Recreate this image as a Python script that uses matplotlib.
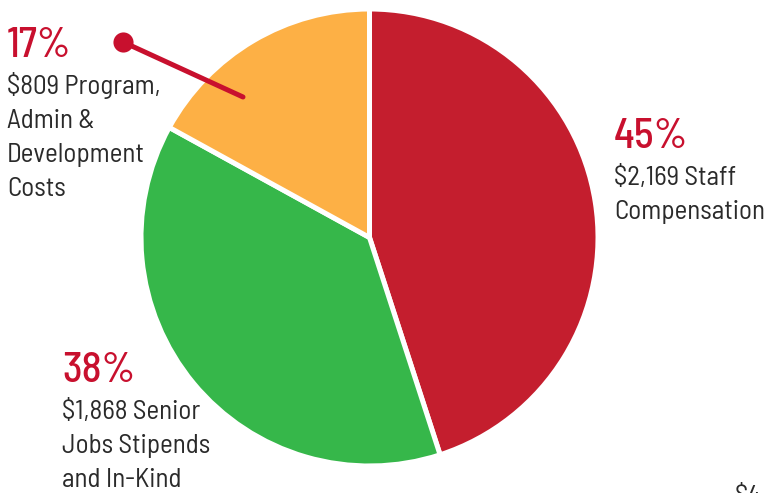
import matplotlib.pyplot as plt
import numpy as np

# data
shares = [45, 38, 17]
pcts = ['45%', '38%', '17%']
amounts = ['$2,169', '$1,868', '$809']
names = ['Staff\nCompensation', 'Senior\nJobs Stipends\nand In-Kind', 'Program,\nAdmin &\nDevelopment\nCosts']
colors = ['#C41E2E', '#36B74A', '#FDB045']
total_label = '$4,846'

W, H = 765, 493
RED = '#C8102E'
DARK = '#2a2a2a'
FONT = ['Barlow Semi Condensed', 'DejaVu Sans']

fig = plt.figure(figsize=(W / 100, H / 100), dpi=100)
ax = fig.add_axes([0, 0, 1, 1])

cx, cy, r = 369.5, H - 237.5, 228.5
ax.pie(shares, colors=colors, startangle=90, counterclock=False,
       center=(cx, cy), radius=r, frame=True, explode=[0.009, 0, 0],
       wedgeprops=dict(edgecolor='white', linewidth=3.6))
ax.set_xlim(0, W)
ax.set_ylim(0, H)
ax.set_aspect('equal')
ax.axis('off')

# leader line for the small slice
ax.plot([123, 243], [H - 42, H - 97], color=RED, lw=3.6, solid_capstyle='round', zorder=5)
ax.plot(123, H - 42, 'o', color=RED, ms=14.5, mew=0, zorder=6)


def label(x, base, pct, amount, name):
    ax.text(x, H - base, pct, color=RED, fontsize=30, fontweight=500,
            family=FONT, va='baseline', ha='left')
    lines = name.split('\n')
    lines[0] = amount + ' ' + lines[0]
    for i, line in enumerate(lines):
        ax.text(x, H - (base + 37 + 34 * i), line, color=DARK, fontsize=19.5,
                family=FONT, va='baseline', ha='left')


label(7, 57, pcts[2], amounts[2], names[2])
label(614, 148, pcts[0], amounts[0], names[0])
label(62, 382, pcts[1], amounts[1], names[1])

# total, cut off at the bottom edge as in the source
ax.text(735, H - 504, total_label, color=DARK, fontsize=19.5, family=FONT,
        va='baseline', ha='left')

fig.savefig('out.png', dpi=100)
